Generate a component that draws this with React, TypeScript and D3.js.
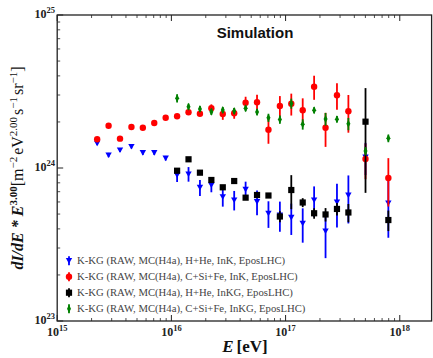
import React from 'react';
import * as d3 from 'd3';

// bin centres, log10(E/eV)
const logE = [
  15.35, 15.45, 15.55, 15.65, 15.75, 15.85, 15.95, 16.05, 16.15, 16.25, 16.35, 16.45,
  16.55, 16.65, 16.75, 16.85, 16.95, 17.05, 17.15, 17.25, 17.35, 17.45, 17.55, 17.7, 17.9,
];
const logELate = [
  16.05, 16.15, 16.25, 16.35, 16.45, 16.55, 16.65, 16.75, 16.85, 16.95, 17.05, 17.15,
  17.25, 17.35, 17.45, 17.55, 17.7, 17.9,
];

// flux * E^3, units of 1e24
const blueVal = [
  1.45, 1.216, 1.311, 1.382, 1.259, 1.259, 1.159, 0.9, 0.914, 0.746, 0.774, 0.649,
  0.618, 0.724, 0.602, 0.506, 0.493, 0.475, 0.435, 0.618, 0.3875, 0.599, 0.664, 1.18, 0.59,
];
const blueErr = [
  0.04, 0.04, 0.04, 0.04, 0.04, 0.04, 0.04, 0.09, 0.1, 0.09, 0.08, 0.09,
  0.09, 0.09, 0.11, 0.1, 0.11, 0.11, 0.11, 0.14, 0.13, 0.19, 0.23, 0.28, 0.24,
];
const redVal = [
  1.54, 1.89, 1.555, 1.853, 1.834, 1.969, 2.132, 2.177, 2.313, 2.261, 2.456, 2.254,
  2.278, 2.672, 2.688, 1.78, 2.542, 2.632, 2.383, 3.4, 1.834, 2.991, 2.351, 1.145, 0.86,
];
const redErr = [
  0.04, 0.05, 0.04, 0.05, 0.05, 0.05, 0.06, 0.06, 0.07, 0.07, 0.15, 0.19,
  0.18, 0.25, 0.32, 0.34, 0.41, 0.43, 0.47, 0.61, 0.46, 0.59, 0.65, 0.3, 0.3,
];
const blackVal = [
  0.96, 1.14, 0.932, 0.835, 0.748, 0.822, 0.64, 0.666, 0.661, 0.482, 0.718, 0.595,
  0.506, 0.497, 0.54, 0.512, 2.008, 0.457,
];
const blackErr = [
  0.02, 0.02, 0.02, 0.02, 0.02, 0.02, 0.02, 0.02, 0.02, 0.04, 0.18, 0.04,
  0.04, 0.05, 0.05, 0.07, 1.32, 0.07,
];
const greenVal = [
  2.855, 2.516, 2.43, 2.333, 2.394, 2.358, 2.456, 2.323, 2.132, 2.075, 2.64, 1.931,
  2.387, 2.091, 2.084, 1.945, 1.291, 1.564,
];
const greenErr = [
  0.18, 0.12, 0.11, 0.11, 0.11, 0.11, 0.11, 0.11, 0.13, 0.13, 0.2, 0.15,
  0.11, 0.2, 0.1, 0.18, 0.08, 0.09,
];

const legendLabels = [
  'K-KG (RAW, MC(H4a), H+He, InK, EposLHC)',
  'K-KG (RAW, MC(H4a), C+Si+Fe, InK, EposLHC)',
  'K-KG (RAW, MC(H4a), H+He, InKG, EposLHC)',
  'K-KG (RAW, MC(H4a), C+Si+Fe, InKG, EposLHC)',
];
const xTickExps = [15, 16, 17, 18];
const yTickExps = [23, 24, 25];

type Marker = 'tri' | 'circle' | 'square' | 'diamond';

interface Series {
  logE: number[];
  val: number[];
  err: number[];
  color: string;
  marker: Marker;
}

const series: Series[] = [
  { logE, val: blueVal, err: blueErr, color: '#0000ff', marker: 'tri' },
  { logE, val: redVal, err: redErr, color: '#ff0000', marker: 'circle' },
  { logE: logELate, val: blackVal, err: blackErr, color: '#000000', marker: 'square' },
  { logE: logELate, val: greenVal, err: greenErr, color: '#008000', marker: 'diamond' },
];

const W = 433;
const H = 358;
const left = 57.2;
const right = 431.6;
const top = 15;
const bottom = 321;

const MarkerShape = ({ kind, x, y, color }: { kind: Marker; x: number; y: number; color: string }) => {
  if (kind === 'circle') return <circle cx={x} cy={y} r={3.2} fill={color} />;
  if (kind === 'square') return <rect x={x - 3.1} y={y - 3.1} width={6.2} height={6.2} fill={color} />;
  if (kind === 'tri')
    return <path d={`M${x - 3.2},${y - 2.6}L${x + 3.2},${y - 2.6}L${x},${y + 3}Z`} fill={color} />;
  return <path d={`M${x},${y - 4}L${x + 2},${y}L${x},${y + 4}L${x - 2},${y}Z`} fill={color} />;
};

export default function App() {
  const x = d3.scaleLog().domain([1e15, 1.9e18]).range([left, right]);
  const y = d3.scaleLog().domain([1e23, 1e25]).range([bottom, top]);

  const xMinor: number[] = [];
  for (let e = 15; e <= 18; e++) for (let m = 2; m <= 9; m++) if (m * 10 ** e < 1.9e18) xMinor.push(m * 10 ** e);
  const yMinor: number[] = [];
  for (let e = 23; e < 25; e++) for (let m = 2; m <= 9; m++) yMinor.push(m * 10 ** e);

  const axisColor = '#222';
  const serif = '"Liberation Serif", "DejaVu Serif", serif';

  return (
    <svg width={W} height={H} style={{ position: 'absolute', left: 0, top: 0 }} fontFamily={serif}>
      <rect width={W} height={H} fill="#fff" />

      {/* ticks */}
      {xTickExps.map(e => (
        <g key={`xt${e}`} stroke={axisColor} strokeWidth={1}>
          <line x1={x(10 ** e)} x2={x(10 ** e)} y1={bottom} y2={bottom - 6} />
          <line x1={x(10 ** e)} x2={x(10 ** e)} y1={top} y2={top + 6} />
        </g>
      ))}
      {xMinor.map(v => (
        <g key={`xm${v}`} stroke={axisColor} strokeWidth={0.8}>
          <line x1={x(v)} x2={x(v)} y1={bottom} y2={bottom - 3} />
          <line x1={x(v)} x2={x(v)} y1={top} y2={top + 3} />
        </g>
      ))}
      {yTickExps.map(e => (
        <line key={`yt${e}`} x1={left} x2={left + 6} y1={y(10 ** e)} y2={y(10 ** e)} stroke={axisColor} />
      ))}
      {yMinor.map(v => (
        <line key={`ym${v}`} x1={left} x2={left + 3} y1={y(v)} y2={y(v)} stroke={axisColor} strokeWidth={0.8} />
      ))}

      {/* data */}
      {series.map((s, si) => (
        <g key={`s${si}`}>
          {s.val.map((v, i) => {
            const cx = x(10 ** s.logE[i]);
            const lo = (v - s.err[i]) * 1e24;
            const hi = (v + s.err[i]) * 1e24;
            return (
              <g key={i}>
                <line x1={cx} x2={cx} y1={y(lo)} y2={y(hi)} stroke={s.color} strokeWidth={1.8} />
                <MarkerShape kind={s.marker} x={cx} y={y(v * 1e24)} color={s.color} />
              </g>
            );
          })}
        </g>
      ))}

      {/* frame */}
      <rect x={left} y={top} width={right - left} height={bottom - top} fill="none" stroke={axisColor} strokeWidth={1.3} />

      {/* tick labels */}
      {xTickExps.map(e => (
        <text key={`xl${e}`} x={x(10 ** e)} y={335.5} textAnchor="middle" fontSize={12} fontWeight="bold" fill="#222">
          10<tspan dy={-5} fontSize={8.5}>{e}</tspan>
        </text>
      ))}
      {yTickExps.map(e => (
        <text key={`yl${e}`} x={55} y={y(10 ** e) + 3} textAnchor="end" fontSize={12} fontWeight="bold" fill="#222">
          10<tspan dy={-5} fontSize={8.5}>{e}</tspan>
        </text>
      ))}

      {/* title */}
      <text x={255} y={37.7} textAnchor="middle" fontFamily='"Liberation Sans", Arial, sans-serif' fontWeight="bold" fontSize={15} fill="#111">
        Simulation
      </text>

      {/* legend */}
      {legendLabels.map((lab, i) => {
        const ly = 260.7 + i * 16;
        const s = series[i];
        return (
          <g key={`lg${i}`}>
            <line x1={69} x2={69} y1={ly - 4.5} y2={ly + 4.5} stroke={s.color} strokeWidth={1.8} />
            <MarkerShape kind={s.marker} x={69} y={ly} color={s.color} />
            <text x={77} y={ly + 3.5} fontSize={10.7} fill="#444">
              {lab}
            </text>
          </g>
        );
      })}

      {/* axis labels */}
      <text x={245} y={352} textAnchor="middle" fontSize={17} fill="#111">
        <tspan fontWeight="bold" fontStyle="italic">E</tspan>
        <tspan fontWeight="bold" dx={3}>[eV]</tspan>
      </text>
      <text transform="translate(23,168) rotate(-90)" textAnchor="middle" fontSize={16} fill="#111">
        <tspan fontWeight="bold" fontStyle="italic">dI/dE * E</tspan>
        <tspan dy={-6} fontSize={11} fontWeight="bold">3.00</tspan>
        <tspan dy={6}>[m</tspan>
        <tspan dy={-6} fontSize={11}>−2</tspan>
        <tspan dy={6} dx={2}>eV</tspan>
        <tspan dy={-6} fontSize={11}>2.00</tspan>
        <tspan dy={6} dx={2}>s</tspan>
        <tspan dy={-6} fontSize={11}>−1</tspan>
        <tspan dy={6} dx={2}>sr</tspan>
        <tspan dy={-6} fontSize={11}>−1</tspan>
        <tspan dy={6}>]</tspan>
      </text>
    </svg>
  );
}
